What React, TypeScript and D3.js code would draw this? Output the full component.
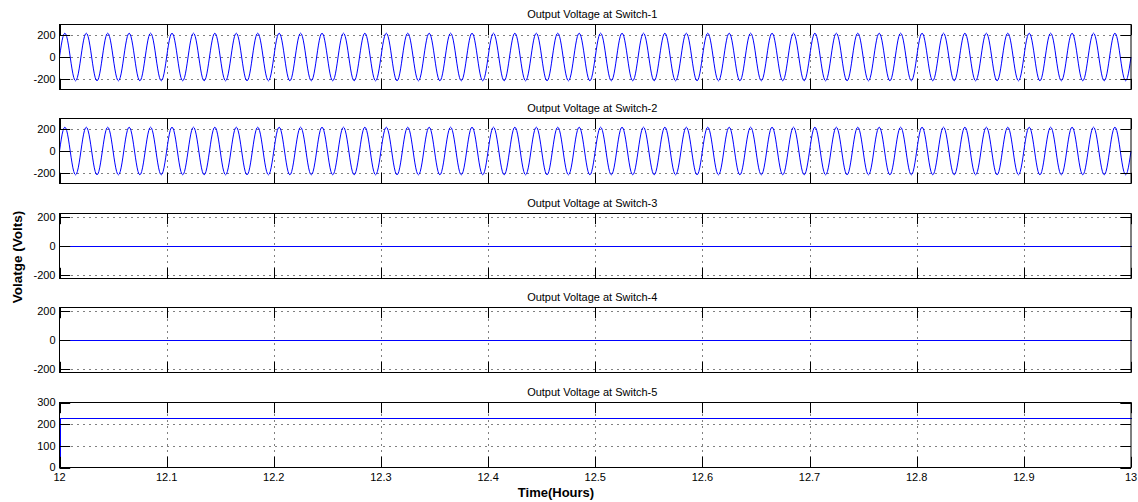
import React from "react";
import * as d3 from "d3";

// ---- data ----
const panelTitles = [
  "Output Voltage at Switch-1",
  "Output Voltage at Switch-2",
  "Output Voltage at Switch-3",
  "Output Voltage at Switch-4",
  "Output Voltage at Switch-5",
];
// AC amplitude (V) of each switch output, and DC level (V)
const acAmplitude = [220, 220, 0, 0, 0];
const dcLevel = [0, 0, 0, 0, 230];
const cyclesInWindow = 50; // sine periods visible between 12 and 13 h
const timeDomain: [number, number] = [12, 13];
const xTicks = [12, 12.1, 12.2, 12.3, 12.4, 12.5, 12.6, 12.7, 12.8, 12.9, 13];
const xTickLabels = ["12", "12.1", "12.2", "12.3", "12.4", "12.5", "12.6", "12.7", "12.8", "12.9", "13"];
const yDomains: [number, number][] = [
  [-300, 300],
  [-300, 300],
  [-225, 225],
  [-225, 225],
  [0, 300],
];
const yTicks = [
  [-200, 0, 200],
  [-200, 0, 200],
  [-200, 0, 200],
  [-200, 0, 200],
  [0, 100, 200, 300],
];

const W = 1138;
const H = 502;
const left = 59.5;
const right = 1131;
const firstTop = 24;
const step = 94.4;
const panelH = 65;
const tickLen = 10.7;
const font = "'Liberation Sans', Arial, sans-serif";

function buildSeries(i: number): [number, number][] {
  const amp = acAmplitude[i];
  const dc = dcLevel[i];
  if (amp === 0) {
    if (dc === 0) return [[timeDomain[0], 0], [timeDomain[1], 0]];
    return [[timeDomain[0], 0], [timeDomain[0], dc], [timeDomain[1], dc]];
  }
  const n = cyclesInWindow * 24;
  return d3.range(n + 1).map((k) => {
    const t = timeDomain[0] + (k / n) * (timeDomain[1] - timeDomain[0]);
    const ph = (2 * Math.PI * cyclesInWindow * k) / n;
    return [t, dc + amp * Math.sin(ph)];
  });
}

function Panel({ i }: { i: number }) {
  const top = Math.round(firstTop + i * step) + 0.5;
  const bottom = top + panelH;
  const x = d3.scaleLinear().domain(timeDomain).range([left, right]);
  const y = d3.scaleLinear().domain(yDomains[i]).range([bottom, top]);
  const flat = acAmplitude[i] === 0;
  const snap = (v: number) => Math.round(v) + 0.5;
  const line = d3
    .line<[number, number]>()
    .x((d) => (flat ? snap(x(d[0])) : x(d[0])))
    .y((d) => (flat ? snap(y(d[1])) : y(d[1])));
  const data = buildSeries(i);
  const isLast = i === panelTitles.length - 1;
  return (
    <g>
      <text
        x={(left + right) / 2 - 3}
        y={top - 7}
        textAnchor="middle"
        fontFamily={font}
        fontSize={11}
        fill="#000"
      >
        {panelTitles[i]}
      </text>
      {/* grid */}
      {xTicks.slice(1, -1).map((t) => (
        <line
          key={"gx" + t}
          x1={snap(x(t))}
          x2={snap(x(t))}
          y1={top}
          y2={bottom}
          stroke="#000"
          strokeWidth={1}
          strokeDasharray="1,5"
        />
      ))}
      {yTicks[i]
        .filter((v) => y(v) > top + 0.6 && y(v) < bottom - 0.6)
        .map((v) => (
          <line
            key={"gy" + v}
            x1={left}
            x2={right}
            y1={snap(y(v))}
            y2={snap(y(v))}
            stroke="#000"
            strokeWidth={1}
            strokeDasharray="1,5"
          />
        ))}
      {/* data */}
      <path
        d={line(data) || ""}
        fill="none"
        stroke="#0000ff"
        strokeWidth={1}
        shapeRendering={flat ? "crispEdges" : "auto"}
      />
      {/* ticks */}
      {xTicks.map((t) => (
        <g key={"tx" + t}>
          <line x1={snap(x(t))} x2={snap(x(t))} y1={bottom} y2={bottom - tickLen} stroke="#000" />
          <line x1={snap(x(t))} x2={snap(x(t))} y1={top} y2={top + tickLen} stroke="#000" />
        </g>
      ))}
      {yTicks[i].map((v) => (
        <g key={"ty" + v}>
          <line x1={left} x2={left + tickLen} y1={snap(y(v))} y2={snap(y(v))} stroke="#000" />
          <line x1={right - tickLen} x2={right} y1={snap(y(v))} y2={snap(y(v))} stroke="#000" />
          <text
            x={left - 4}
            y={y(v)}
            dy="0.35em"
            textAnchor="end"
            fontFamily={font}
            fontSize={11}
            fill="#000"
          >
            {String(v)}
          </text>
        </g>
      ))}
      {isLast &&
        xTicks.map((t, k) => (
          <text
            key={"lx" + t}
            x={x(t)}
            y={bottom + 13}
            textAnchor="middle"
            fontFamily={font}
            fontSize={11}
            fill="#000"
          >
            {xTickLabels[k]}
          </text>
        ))}
      <rect x={left} y={top} width={right - left} height={panelH} fill="none" stroke="#000" strokeWidth={1} />
    </g>
  );
}

export default function App() {
  return (
    <svg width={W} height={H} style={{ position: "absolute", left: 0, top: 0, background: "#fff" }}>
      <rect x={0} y={0} width={W} height={H} fill="#fff" />
      {panelTitles.map((_, i) => (
        <Panel key={i} i={i} />
      ))}
      <text
        x={556}
        y={497}
        textAnchor="middle"
        fontFamily={font}
        fontWeight="bold"
        fontSize={13}
        fill="#000"
      >
        Time(Hours)
      </text>
      <text
        transform="translate(22,257) rotate(-90)"
        textAnchor="middle"
        fontFamily={font}
        fontWeight="bold"
        fontSize={13.5}
        fill="#000"
      >
        Volatge (Volts)
      </text>
    </svg>
  );
}
